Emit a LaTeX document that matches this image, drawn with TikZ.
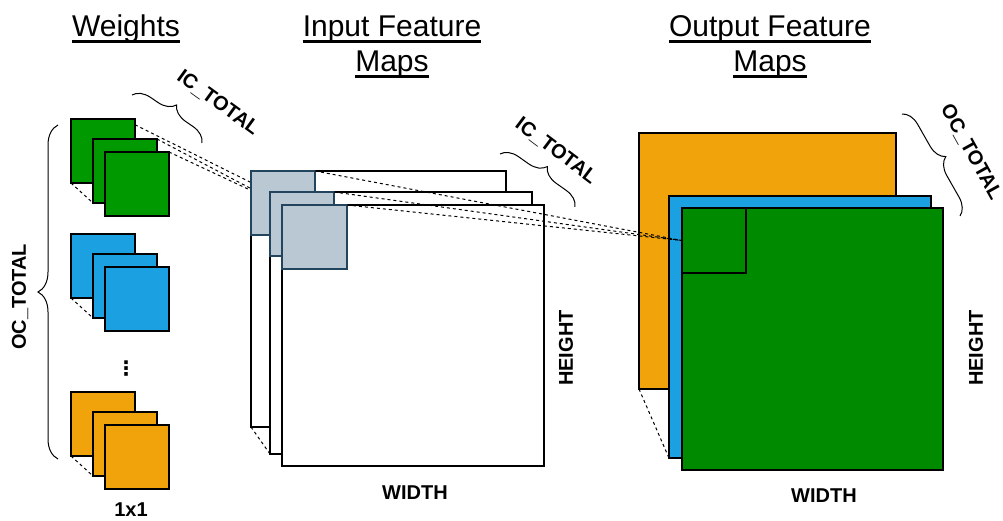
\documentclass[tikz,border=0pt]{standalone}
\usepackage{fontspec}
\setmainfont{Liberation Sans}
\newfontfamily\symfont{DejaVu Sans}
\usetikzlibrary{decorations.pathreplacing,calc,backgrounds}
\definecolor{wgreen}{HTML}{009900}
\definecolor{wblue}{HTML}{1BA1E2}
\definecolor{worange}{HTML}{F0A30A}
\definecolor{ogreen}{HTML}{008A00}
\definecolor{patchfill}{HTML}{BAC8D3}
\definecolor{patchline}{HTML}{23445D}
\tikzset{
  sq/.style={draw=black, line width=1.1pt, inner sep=0pt, outer sep=0pt, anchor=north west},
  patch/.style={sq, draw=patchline, fill=patchfill},
  title/.style={inner sep=0pt, anchor=base, font=\fontsize{30}{35}\selectfont},
  ul/.style={line width=2.2pt},
  lbl/.style={inner sep=0pt, font=\fontsize{20}{24}\selectfont\bfseries},
  guideline/.style={dash pattern=on 3pt off 3pt, line width=1pt},
  curly/.style={decorate, decoration={brace, amplitude=#1}, line width=1pt},
}
\begin{document}
\begin{tikzpicture}[x=1pt, y=-1pt]
      \useasboundingbox (0,0) rectangle (1003,521);

      % Titles
      \node[title] (tw) at (126,37) {Weights};
      \node[title] (ti1) at (392,37) {Input Feature};
      \node[title] (ti2) at (392,72) {Maps};
      \node[title] (to1) at (770,37) {Output Feature};
      \node[title] (to2) at (770,72) {Maps};
      \foreach \t in {tw,ti1,ti2,to1,to2} {
        \draw[ul] ($(\t.base west)+(0,4.5)$) -- ($(\t.base east)+(0,4.5)$);
      }

      % Weights
      \foreach \grp/\col/\top in {g/wgreen/119, b/wblue/234, o/worange/392} {
        \node[sq, fill=\col, minimum size=64pt] (\grp1) at (71,\top) {};
        \node[sq, fill=\col, minimum size=64pt] (\grp2) at (93,\top+20) {};
        \node[sq, fill=\col, minimum size=64pt] (\grp3) at (105,\top+33) {};
        \draw[guideline] (\grp1.south west) -- (\grp2.south west);
      }
      \node[inner sep=0pt, font=\fontsize{20}{24}\symfont\bfseries] (dots) at (126,369) {⋮};
      \node[lbl] (kern) at (131,510) {1x1};

      % Input feature maps
      \node[sq, fill=white, minimum width=255pt, minimum height=256pt] (in1) at (251,171) {};
      \node[patch, minimum size=64pt] (ip1) at (251,171) {};
      \node[sq, fill=white, minimum width=262pt, minimum height=262pt] (in2) at (270,192) {};
      \node[patch, minimum size=64pt] (ip2) at (270,192) {};
      \node[sq, fill=white, minimum width=262pt, minimum height=261pt] (in3) at (282,205) {};
      \node[patch, minimum width=65pt, minimum height=64pt] (ip3) at (282,205) {};
      \draw[guideline] (in1.south west) -- (in2.south west);

      % Output feature maps
      \node[sq, fill=worange, minimum width=257pt, minimum height=256pt] (out1) at (639,133) {};
      \node[sq, fill=wblue, minimum width=262pt, minimum height=262pt] (out2) at (669,196) {};
      \node[sq, fill=ogreen, minimum width=261pt, minimum height=262pt] (out3) at (682,208) {};
      \node[sq, fill=ogreen, minimum width=64pt, minimum height=65pt] (op) at (682,208) {};
      \draw[guideline] (out1.south west) -- (out2.south west);

      % Weights to input patches
      \begin{pgfonlayer}{background}
        \draw[guideline] ($(g1.north east)!0.09!(g1.south east)$) -- (ip2.north west);
        \draw[guideline] (g2.north east) -- (ip3.north west);
        \draw[guideline] (g3.north east) -- (ip3.north west);
      \end{pgfonlayer}

      % Input patches to output patch
      \foreach \i in {1,2,3} {
        \draw[guideline] (ip\i.north east) -- (op.west);
      }

      % Braces
      \coordinate (lb1) at (58,459);
      \coordinate (lb2) at (58,125);
      \coordinate (wb1) at (132,95);
      \coordinate (wb2) at (202,143);
      \coordinate (ib1) at (500,154);
      \coordinate (ib2) at (575,207);
      \coordinate (ob1) at (902,114);
      \coordinate (ob2) at (960,216);
      \draw[curly=20pt] (lb1) -- (lb2);
      \draw[curly=17pt] (wb1) -- (wb2);
      \draw[curly=17pt] (ib1) -- (ib2);
      \draw[curly=17pt] (ob1) -- (ob2);

      % Labels
      \node[lbl, rotate=90] (ocl) at (20,297) {OC\_TOTAL};
      \node[lbl, rotate=-36] (icw) at (218,103) {IC\_TOTAL};
      \node[lbl, rotate=-37] (ici) at (556,151) {IC\_TOTAL};
      \node[lbl, rotate=-61] (oco) at (971,152) {OC\_TOTAL};
      \node[lbl, rotate=90] (hin) at (566,348) {HEIGHT};
      \node[lbl, rotate=90] (hout) at (976,348) {HEIGHT};
      \node[lbl] (win) at (415,493) {WIDTH};
      \node[lbl] (wout) at (824,496) {WIDTH};
\end{tikzpicture}
\end{document}
